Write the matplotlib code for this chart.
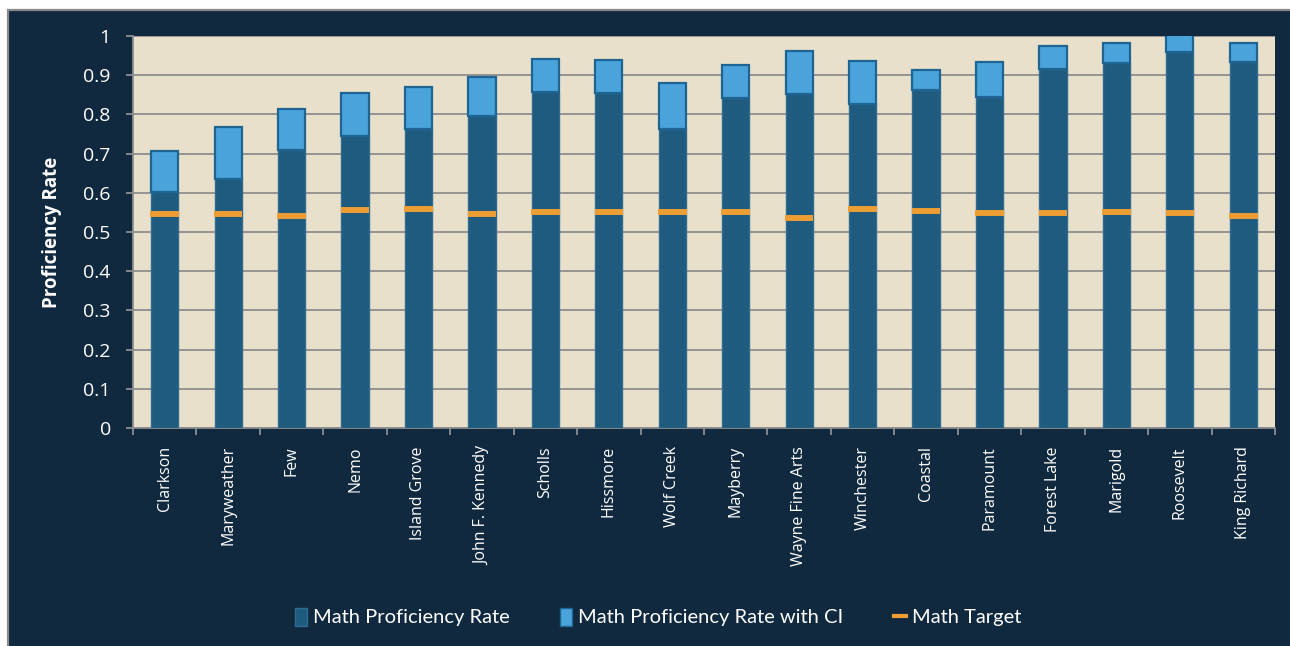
import matplotlib
matplotlib.use("Agg")
import matplotlib.pyplot as plt
from matplotlib.patches import Rectangle, Patch
from matplotlib.lines import Line2D
import numpy as np

schools = ["Clarkson", "Maryweather", "Few", "Nemo", "Island Grove", "John F. Kennedy",
           "Scholls", "Hissmore", "Wolf Creek", "Mayberry", "Wayne Fine Arts", "Winchester",
           "Coastal", "Paramount", "Forest Lake", "Marigold", "Roosevelt", "King Richard"]
rate = [0.603, 0.634, 0.709, 0.746, 0.762, 0.797, 0.858, 0.854, 0.763, 0.843, 0.851, 0.827,
        0.862, 0.845, 0.915, 0.932, 0.960, 0.934]
rate_ci = [0.706, 0.767, 0.813, 0.855, 0.870, 0.895, 0.942, 0.940, 0.879, 0.927, 0.961, 0.935,
           0.913, 0.934, 0.974, 0.983, 1.040, 0.981]
target = [0.546, 0.546, 0.541, 0.556, 0.559, 0.546, 0.551, 0.551, 0.551, 0.551, 0.536, 0.559,
          0.554, 0.548, 0.549, 0.551, 0.549, 0.541]

NAVY, PANEL, GRID = "#10293f", "#e8e0cb", "#8e8e8e"
DARK, LIGHT, ORANGE = "#1f5a7f", "#4aa3da", "#ec9d33"

fig = plt.figure(figsize=(12.9, 6.46), dpi=100)
fig.patch.set_facecolor("white")
fig.patches.append(Rectangle((8 / 1290, -0.05), 1.1, 0.05 + 1 - 10 / 646, transform=fig.transFigure,
                             facecolor=NAVY, edgecolor="#8a8a8a", lw=1.6, zorder=-1))

ax = fig.add_axes([133 / 1290, 1 - 428 / 646, (1275 - 133) / 1290, (428 - 36) / 646])
ax.set_zorder(1)
ax.set_facecolor(PANEL)
x = np.arange(len(schools))
w = 0.43
ci_ext = [c - r for c, r in zip(rate_ci, rate)]
ax.bar(x, rate, w, color=DARK, edgecolor="#2f6c92", lw=1.0, zorder=3)
ax.bar(x, ci_ext, w, bottom=rate, color=LIGHT, edgecolor="#1f6593", lw=1.6, zorder=3)
ax.hlines(target, x - w / 2 - 0.01, x + w / 2 + 0.01, color=ORANGE, lw=4.3, zorder=4)

ax.set_xlim(-0.5, len(schools) - 0.5)
ax.set_ylim(0, 1)
ax.set_yticks(np.arange(0, 1.01, 0.1))
ax.set_yticklabels(["0"] + [f"{v:.1f}" for v in np.arange(0.1, 0.95, 0.1)] + ["1"],
                   fontsize=14, color="white", family="Open Sans")
ax.yaxis.grid(True, color=GRID, lw=1.3, zorder=1)
ax.set_axisbelow(True)

ax.set_xticks(x)
ax.set_xticklabels(schools, rotation=90, fontsize=11.5, color="white", family="Open Sans", va="top")
ax.tick_params(axis="x", which="major", length=0, pad=13)
ax.set_xticks(np.arange(-0.5, len(schools)), minor=True)
ax.tick_params(axis="x", which="minor", length=5, color=GRID, width=1.3)
ax.tick_params(axis="y", length=5, color=GRID, width=1.3, pad=11)

for s in ("top", "right"):
    ax.spines[s].set_visible(False)
for s in ("left", "bottom"):
    ax.spines[s].set_color(GRID)
    ax.spines[s].set_linewidth(1.3)

fig.text(52 / 1290, 1 - 232 / 646, "Proficiency Rate", rotation=90, ha="center", va="center",
         fontsize=13.5, fontweight="bold", color="white", family="Open Sans")

handles = [Patch(facecolor=DARK, edgecolor="#2f6c92"),
           Patch(facecolor=LIGHT, edgecolor="#1f6593"),
           Line2D([], [], color=ORANGE, lw=3)]
leg = fig.legend(handles, ["Math Proficiency Rate", "Math Proficiency Rate with CI", "Math Target"],
                 loc="center", bbox_to_anchor=(658 / 1290, 1 - 617 / 646), ncol=3, frameon=False,
                 prop={"family": "Lato", "size": 14.5}, handlelength=0.6, handleheight=1.0,
                 handletextpad=0.3, columnspacing=2.5)
for t in leg.get_texts():
    t.set_color("white")

fig.savefig("out.png", dpi=100, facecolor=fig.get_facecolor())
